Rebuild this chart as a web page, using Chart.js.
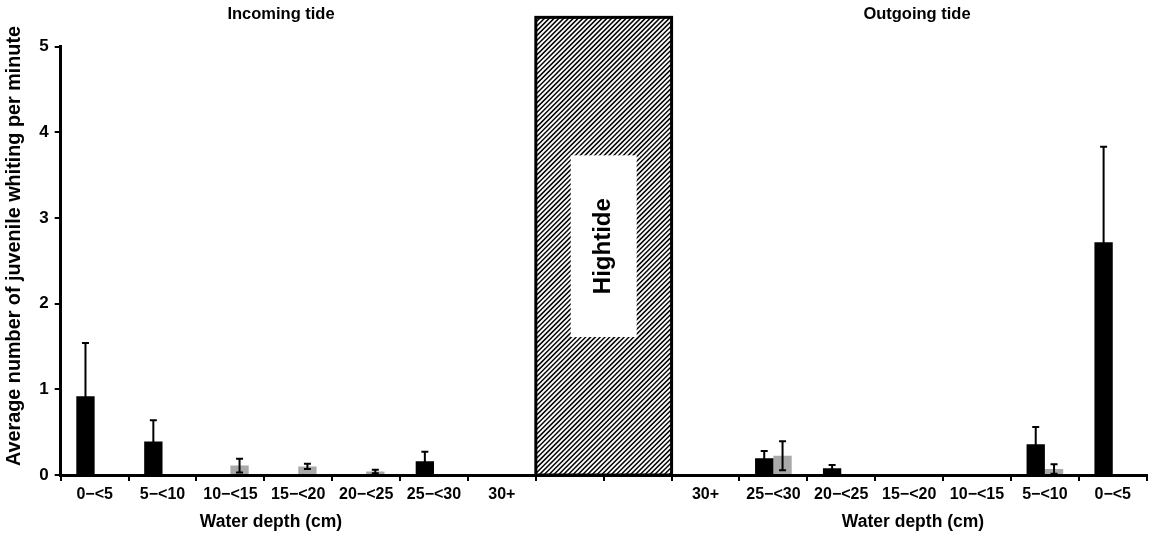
<!DOCTYPE html>
<html>
<head>
<meta charset="utf-8">
<script src="https://cdn.jsdelivr.net/npm/chart.js@4/dist/chart.umd.min.js"></script>
<style>
  html, body { margin: 0; padding: 0; background: #fff; }
  #wrap { width: 1153px; height: 538px; position: relative; }
</style>
</head>
<body>
<div id="wrap"><canvas id="chart"></canvas></div>
<script>
// categories (incoming tide, 2 empty slots for high tide, outgoing tide)
const depthLabels = ['0−<5','5−<10','10−<15','15−<20','20−<25','25−<30','30+','','','30+','25−<30','20−<25','15−<20','10−<15','5−<10','0−<5'];

// black series
const blackMeans = [0.92, 0.39, 0, 0, 0, 0.16, 0, null, null, 0, 0.195, 0.078, 0, 0, 0.36, 2.715];
const blackErr   = [0.62, 0.25, 0, 0, 0, 0.11, 0, null, null, 0, 0.085, 0.04, 0, 0, 0.20, 1.115];

// grey series
const greyMeans = [0, 0, 0.11, 0.10, 0.04, 0, 0, null, null, 0, 0.225, 0, 0, 0, 0.07, 0];
const greyErr   = [0, 0, 0.08, 0.03, 0.02, 0, 0, null, null, 0, 0.17, 0, 0, 0, 0.055, 0];

const yTicks = [0, 1, 2, 3, 4, 5];

const FONT = '"Liberation Sans", Arial, sans-serif';

// error bars drawn through the scales
const errorBars = {
  id: 'errorBars',
  afterDatasetsDraw(chart) {
    const ctx = chart.ctx;
    const y = chart.scales.y;
    const errs = [blackErr, greyErr];
    ctx.save();
    ctx.strokeStyle = '#000';
    ctx.lineWidth = 2;
    chart.data.datasets.forEach((ds, i) => {
      const meta = chart.getDatasetMeta(i);
      meta.data.forEach((bar, j) => {
        const v = ds.data[j], e = errs[i][j];
        if (v == null || !e) return;
        const top = y.getPixelForValue(v + e);
        const bot = y.getPixelForValue(Math.max(0, v - e));
        ctx.beginPath();
        ctx.moveTo(bar.x, bot); ctx.lineTo(bar.x, top);
        ctx.moveTo(bar.x - 3.5, top); ctx.lineTo(bar.x + 3.5, top);
        if (v - e > 0.015) { ctx.moveTo(bar.x - 3.5, bot); ctx.lineTo(bar.x + 3.5, bot); }
        ctx.stroke();
      });
    });
    ctx.restore();
  }
};

// hatched high tide block + titles
const decorations = {
  id: 'decorations',
  afterDraw(chart) {
    const ctx = chart.ctx;
    const x = chart.scales.x, y = chart.scales.y;
    const left = (x.getPixelForValue(6) + x.getPixelForValue(7)) / 2;
    const right = (x.getPixelForValue(8) + x.getPixelForValue(9)) / 2;
    const top = y.getPixelForValue(5.34);
    const bottom = y.getPixelForValue(0);

    ctx.save();
    ctx.fillStyle = '#fff';
    ctx.fillRect(left, top, right - left, bottom - top);
    ctx.beginPath();
    ctx.rect(left, top, right - left, bottom - top);
    ctx.clip();
    ctx.strokeStyle = '#000';
    ctx.lineWidth = 1.5;
    const h = bottom - top;
    for (let sx = left - h; sx < right + 5; sx += 4.8) {
      ctx.beginPath();
      ctx.moveTo(sx, bottom);
      ctx.lineTo(sx + h, top);
      ctx.stroke();
    }
    ctx.restore();

    ctx.save();
    ctx.strokeStyle = '#000';
    ctx.lineWidth = 3;
    ctx.strokeRect(left, top, right - left, bottom - top);

    // white label panel
    const cx = (left + right) / 2;
    const pTop = y.getPixelForValue(3.73), pBot = y.getPixelForValue(1.61);
    ctx.fillStyle = '#fff';
    ctx.fillRect(cx - 33, pTop, 66, pBot - pTop);
    ctx.translate(cx, (pTop + pBot) / 2);
    ctx.rotate(-Math.PI / 2);
    ctx.fillStyle = '#000';
    ctx.font = 'bold 24px ' + FONT;
    ctx.textAlign = 'center';
    ctx.textBaseline = 'middle';
    ctx.fillText('Hightide', 0, 0);
    ctx.restore();

    ctx.save();
    ctx.fillStyle = '#000';
    ctx.textAlign = 'center';
    ctx.textBaseline = 'middle';
    ctx.font = 'bold 16.5px ' + FONT;
    ctx.fillText('Incoming tide', 281, 14);
    ctx.fillText('Outgoing tide', 917, 14);
    ctx.font = 'bold 17.5px ' + FONT;
    ctx.fillText('Water depth (cm)', 271, 522);
    ctx.fillText('Water depth (cm)', 913, 522);
    ctx.translate(15, 246);
    ctx.rotate(-Math.PI / 2);
    ctx.font = 'bold 19.8px ' + FONT;
    ctx.fillText('Average number of juvenile whiting per minute', 0, 0);
    ctx.restore();
  }
};

new Chart(document.getElementById('chart'), {
  type: 'bar',
  data: {
    labels: depthLabels,
    datasets: [
      { label: 'black', data: blackMeans, backgroundColor: '#000', categoryPercentage: 0.54, barPercentage: 1 },
      { label: 'grey', data: greyMeans, backgroundColor: '#a9a9a9', categoryPercentage: 0.54, barPercentage: 1 }
    ]
  },
  options: {
    responsive: true,
    maintainAspectRatio: false,
    animation: false,
    layout: { padding: { top: 46.5, right: 6.3, left: 0, bottom: 0 } },
    plugins: { legend: { display: false }, tooltip: { enabled: false } },
    scales: {
      x: {
        grid: { display: true, offset: true, drawOnChartArea: false, drawTicks: true, tickLength: 6, color: '#000', lineWidth: 2 },
        border: { display: true, color: '#000', width: 3 },
        ticks: { color: '#000', font: { family: FONT, size: 16, weight: 'bold' }, padding: 4, maxRotation: 0, autoSkip: false },
        afterFit(scale) { scale.height = 63; }
      },
      y: {
        min: 0, max: 5,
        afterBuildTicks(scale) { scale.ticks = yTicks.map(v => ({ value: v })); },
        grid: { display: true, drawOnChartArea: false, drawTicks: true, tickLength: 6, color: '#000', lineWidth: 2 },
        border: { display: true, color: '#000', width: 3 },
        ticks: { color: '#000', font: { family: FONT, size: 17, weight: 'bold' }, padding: 6 },
        afterFit(scale) { scale.width = 60.7; }
      }
    }
  },
  plugins: [errorBars, decorations]
});
</script>
</body>
</html>
